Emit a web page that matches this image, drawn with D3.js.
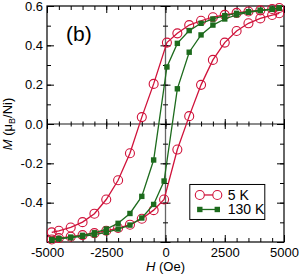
<!DOCTYPE html>
<html>
<head>
<meta charset="utf-8">
<script src="https://cdn.jsdelivr.net/npm/d3@7"></script>
<style>
  body { margin: 0; background: #fff; }
  text { font-family: "Liberation Sans", Arial, sans-serif; fill: #000; }
  .tick text { font-size: 13px; }
</style>
</head>
<body>
<div id="chart"></div>
<script>
// field values (Oe) for each sweep
var hDown = [4800, 4500, 4000, 3500, 3000, 2500, 2000, 1500, 1000, 500, 60,
  -500, -1000, -1500, -2000, -2500, -3000, -3500, -4000, -4500, -4800];
var hUp = [-4800, -4500, -4000, -3500, -3000, -2500, -2000, -1500, -1000, -500, -60,
  500, 1000, 1500, 2000, 2500, 3000, 3500, 4000, 4500, 4800];

// 5 K loop
var m5kDown = [0.590, 0.585, 0.578, 0.572, 0.565, 0.555, 0.543, 0.525, 0.503, 0.461, 0.414,
  0.204, 0.035, -0.149, -0.286, -0.384, -0.456, -0.499, -0.526, -0.543, -0.551];
var m5kUp = [-0.587, -0.580, -0.573, -0.565, -0.555, -0.543, -0.529, -0.512, -0.482, -0.438, -0.384,
  -0.130, 0.040, 0.199, 0.326, 0.414, 0.473, 0.512, 0.537, 0.554, 0.563];

// 130 K loop
var m130kDown = [0.590, 0.584, 0.578, 0.571, 0.563, 0.551, 0.534, 0.512, 0.475, 0.410, 0.290,
  -0.183, -0.368, -0.455, -0.505, -0.534, -0.553, -0.566, -0.575, -0.582, -0.587];
var m130kUp = [-0.590, -0.584, -0.578, -0.571, -0.563, -0.551, -0.534, -0.514, -0.478, -0.409, -0.290,
  0.179, 0.365, 0.453, 0.503, 0.534, 0.555, 0.568, 0.577, 0.583, 0.588];

var xMajor = [-5000, -2500, 0, 2500, 5000];
var xLabels = ["-5000", "-2500", "0", "2500", "5000"];
var yMajor = [-0.6, -0.4, -0.2, 0, 0.2, 0.4, 0.6];
var yLabels = ["", "-0.4", "-0.2", "0.0", "0.2", "0.4", "0.6"];
var seriesNames = ["5 K", "130 K"];

var svgWidth = 300;
var svgHeight = 276;
var margin = { top: 6, right: 16, bottom: 34, left: 47 };
var width = svgWidth - margin.left - margin.right;
var height = svgHeight - margin.top - margin.bottom;

var red = "#d0123a";
var green = "#1d6b1d";

var svg = d3.select("#chart")
  .append("svg")
  .attr("width", svgWidth)
  .attr("height", svgHeight);

var chartGroup = svg.append("g")
  .attr("transform", `translate(${margin.left}, ${margin.top})`);

var xScale = d3.scaleLinear().domain([-5000, 5000]).range([0, width]);
var yScale = d3.scaleLinear().domain([-0.6, 0.6]).range([height, 0]);

var xMinor = d3.range(-5000, 5001, 500);
var yMinor = d3.range(-6, 7).map(d => d / 10);

// axis helper: draws one tick set with no domain line
function ticks(axis, tr, vals, size, fmt) {
  var g = chartGroup.append("g")
    .attr("transform", tr)
    .call(axis.tickValues(vals).tickSize(size).tickSizeOuter(0).tickFormat(fmt));
  g.select(".domain").remove();
  g.selectAll("line").attr("stroke", "#000");
  return g;
}
var none = () => "";

// zero lines
chartGroup.append("line")
  .attr("x1", 0).attr("x2", width)
  .attr("y1", yScale(0)).attr("y2", yScale(0))
  .attr("stroke", "#666").attr("stroke-width", 1.3);
chartGroup.append("line")
  .attr("x1", xScale(0)).attr("x2", xScale(0))
  .attr("y1", 0).attr("y2", height)
  .attr("stroke", "#666").attr("stroke-width", 1.3);

// ticks on zero lines (both sides)
ticks(d3.axisTop(xScale), `translate(0, ${yScale(0)})`, xMinor, 2.5, none);
ticks(d3.axisBottom(xScale), `translate(0, ${yScale(0)})`, xMinor, 2.5, none);
ticks(d3.axisTop(xScale), `translate(0, ${yScale(0)})`, xMajor, 5, none);
ticks(d3.axisBottom(xScale), `translate(0, ${yScale(0)})`, xMajor, 5, none);
ticks(d3.axisLeft(yScale), `translate(${xScale(0)}, 0)`, yMinor, 2.5, none);
ticks(d3.axisRight(yScale), `translate(${xScale(0)}, 0)`, yMinor, 2.5, none);
ticks(d3.axisLeft(yScale), `translate(${xScale(0)}, 0)`, yMajor, 5, none);
ticks(d3.axisRight(yScale), `translate(${xScale(0)}, 0)`, yMajor, 5, none);

// frame ticks, inward
ticks(d3.axisBottom(xScale), `translate(0, ${height})`, xMinor, -4, none);
var bottomAxis = ticks(d3.axisBottom(xScale), `translate(0, ${height})`, xMajor, -7,
  (d, i) => xLabels[i]);
bottomAxis.selectAll("text").attr("y", 6).attr("dy", "0.71em");
ticks(d3.axisTop(xScale), "translate(0, 0)", xMinor, -4, none);
ticks(d3.axisTop(xScale), "translate(0, 0)", xMajor, -7, none);

ticks(d3.axisLeft(yScale), "translate(0, 0)", yMinor, -4, none);
var leftAxis = ticks(d3.axisLeft(yScale), "translate(0, 0)", yMajor, -7,
  (d, i) => yLabels[i]);
leftAxis.selectAll("text").attr("x", -4);
ticks(d3.axisRight(yScale), `translate(${width}, 0)`, yMinor, -4, none);
ticks(d3.axisRight(yScale), `translate(${width}, 0)`, yMajor, -7, none);

chartGroup.append("rect")
  .attr("width", width).attr("height", height)
  .attr("fill", "none").attr("stroke", "#000").attr("stroke-width", 1.2);

// curves
var line = d3.line().x(d => xScale(d[0])).y(d => yScale(d[1]));

function drawSweep(hs, ms, color, shape) {
  var pts = hs.map((h, i) => [h, ms[i]]);
  chartGroup.append("path")
    .datum(pts)
    .attr("d", line)
    .attr("fill", "none")
    .attr("stroke", color)
    .attr("stroke-width", 1.3);
  if (shape === "circle") {
    chartGroup.append("g").selectAll("circle")
      .data(pts).enter().append("circle")
      .attr("cx", d => xScale(d[0]))
      .attr("cy", d => yScale(d[1]))
      .attr("r", 4.5)
      .attr("fill", "none")
      .attr("stroke", color)
      .attr("stroke-width", 1.1);
  } else {
    chartGroup.append("g").selectAll("rect")
      .data(pts).enter().append("rect")
      .attr("x", d => xScale(d[0]) - 2.7)
      .attr("y", d => yScale(d[1]) - 2.7)
      .attr("width", 5.4).attr("height", 5.4)
      .attr("fill", color);
  }
}

drawSweep(hDown, m5kDown, red, "circle");
drawSweep(hUp, m5kUp, red, "circle");
drawSweep(hDown, m130kDown, green, "square");
drawSweep(hUp, m130kUp, green, "square");

// panel label
chartGroup.append("text")
  .attr("x", 19).attr("y", 35)
  .attr("font-size", "21px")
  .text("(b)");

// legend
var legend = chartGroup.append("g")
  .attr("transform", `translate(${xScale(1000) + 0.6}, ${yScale(-0.3075)})`);
legend.append("rect")
  .attr("width", 75).attr("height", 35)
  .attr("fill", "#fff").attr("stroke", "#000").attr("stroke-width", 1);
seriesNames.forEach(function(name, i) {
  var yy = 10.5 + i * 14.5;
  var color = i === 0 ? red : green;
  legend.append("line")
    .attr("x1", 10).attr("x2", 27.5).attr("y1", yy).attr("y2", yy)
    .attr("stroke", color).attr("stroke-width", 1.3);
  if (i === 0) {
    [10, 27.5].forEach(function(cx) {
      legend.append("circle").attr("cx", cx).attr("cy", yy).attr("r", 4.5)
        .attr("fill", "#fff").attr("stroke", color).attr("stroke-width", 1.1);
    });
  } else {
    [10, 27.5].forEach(function(cx) {
      legend.append("rect").attr("x", cx - 2.7).attr("y", yy - 2.7)
        .attr("width", 5.4).attr("height", 5.4).attr("fill", color);
    });
  }
  legend.append("text")
    .attr("x", 38).attr("y", yy + 5)
    .attr("font-size", "14px")
    .text(name);
});

// axis titles
var xTitle = svg.append("text")
  .attr("x", margin.left + width / 2)
  .attr("y", 271)
  .attr("text-anchor", "middle")
  .attr("font-size", "13px");
xTitle.append("tspan").attr("font-style", "italic").text("H");
xTitle.append("tspan").text(" (Oe)");

var yTitle = svg.append("text")
  .attr("transform", `translate(12, ${margin.top + height / 2}) rotate(-90)`)
  .attr("text-anchor", "middle")
  .attr("font-size", "13px");
yTitle.append("tspan").attr("font-style", "italic").text("M");
yTitle.append("tspan").text(" (μ");
yTitle.append("tspan").attr("font-size", "9px").attr("dy", 3).text("B");
yTitle.append("tspan").attr("dy", -3).text("/Ni)");
</script>
</body>
</html>
